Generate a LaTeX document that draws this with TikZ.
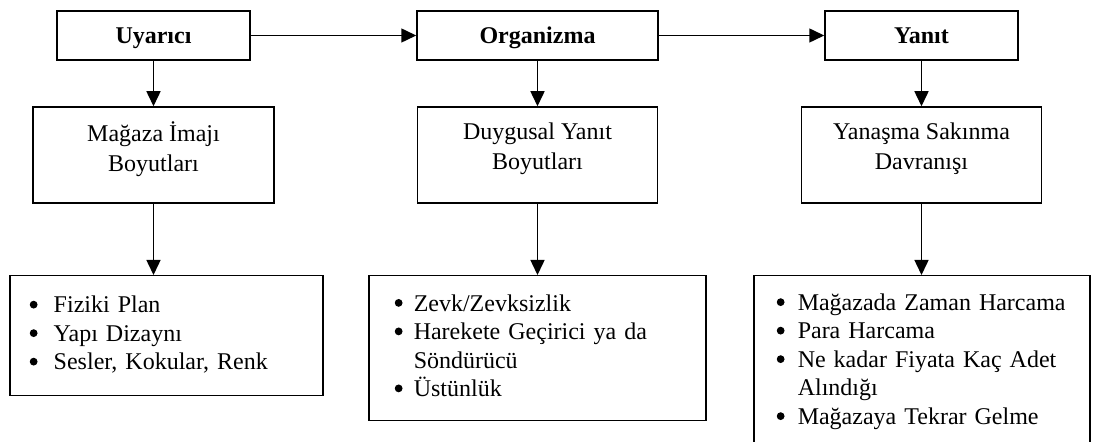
\documentclass[tikz,border=0pt]{standalone}
\usepackage{fontspec}
\setmainfont{Liberation Serif}
\usetikzlibrary{arrows.meta,calc}
\newcommand{\bul}[1]{\makebox[#1][l]{\tikz[baseline=0pt]\fill[black] (3.9pt,8.3pt) circle (3.9pt);}}
\begin{document}
\begin{tikzpicture}[x=1pt,y=1pt,
  every node/.style={font=\fontsize{24}{28.5}\selectfont},
  boxline/.style={draw=black,line width=1.5pt},
  topbox/.style={boxline,minimum height=49pt,inner sep=0pt,text height=16pt,text depth=0pt,font=\fontsize{24}{28.5}\selectfont\bfseries},
  midbox/.style={boxline,minimum width=240pt,minimum height=96pt,inner sep=0pt},
  midtext/.style={align=center,inner sep=0pt,font=\fontsize{24}{30}\selectfont},
  listbox/.style={boxline,anchor=north west,align=left,inner ysep=0pt},
  arr/.style={line width=1.5pt,-{Triangle[length=15pt,width=14pt]}},
]
\useasboundingbox (0,0) rectangle (1093,442);
\clip (0,0) rectangle (1093,442);
\fill[white] (0,0) rectangle (1093,442);

% top row
\node[topbox,minimum width=193pt] (u) at (153.5,406.5) {Uyarıcı};
\node[topbox,minimum width=241pt] (o) at (537.5,406.5) {Organizma};
\node[topbox,minimum width=193pt] (y) at (921.5,406.5) {Yanıt};

% middle row
\node[midbox,minimum width=241pt] (m1) at (153.5,287) {};
\node[midbox] (m2) at (537.5,287) {};
\node[midbox] (m3) at (921.5,287) {};
\node[midtext] (m1t) at ($(m1.center)+(0,6)$) {Mağaza İmajı\\Boyutları};
\node[midtext] (m2t) at ($(m2.center)+(0,6)$) {Duygusal Yanıt\\Boyutları};
\node[midtext] (m3t) at ($(m3.center)+(0,6)$) {Yanaşma Sakınma\\Davranışı};

% bottom row
\node[listbox,minimum width=313pt,minimum height=120pt,inner xsep=20pt,text width=273pt] (b1) at (9,167)
  {\begin{tabular}{@{}l@{}l@{}}
   \bul{24pt}&Fiziki Plan\\
   \bul{24pt}&Yapı Dizaynı\\
   \bul{24pt}&Sesler, Kokular, Renk
   \end{tabular}\\[-4pt]};
\node[listbox,minimum width=337pt,minimum height=145pt,inner xsep=26pt,text width=285pt] (b2) at (368,167)
  {\begin{tabular}{@{}l@{}l@{}}
   \bul{19pt}&Zevk/Zevksizlik\\
   \bul{19pt}&Harekete Geçirici ya da\\
   &Söndürücü\\
   \bul{19pt}&Üstünlük
   \end{tabular}};
\node[listbox,minimum width=336pt,minimum height=172pt,inner xsep=23pt,text width=290pt] (b3) at (753,167)
  {\begin{tabular}{@{}l@{}l@{}}
   \bul{21pt}&Mağazada Zaman Harcama\\
   \bul{21pt}&Para Harcama\\
   \bul{21pt}&Ne kadar Fiyata Kaç Adet\\
   &Alındığı\\
   \bul{21pt}&Mağazaya Tekrar Gelme
   \end{tabular}};

% connectors
\draw[arr] (u.east) -- (o.west);
\draw[arr] (o.east) -- (y.west);
\draw[arr] (u.south) -- (m1.north);
\draw[arr] (o.south) -- (m2.north);
\draw[arr] (y.south) -- (m3.north);
\draw[arr] (m1.south) -- (m1.south |- b1.north);
\draw[arr] (m2.south) -- (m2.south |- b2.north);
\draw[arr] (m3.south) -- (m3.south |- b3.north);
\end{tikzpicture}
\end{document}
